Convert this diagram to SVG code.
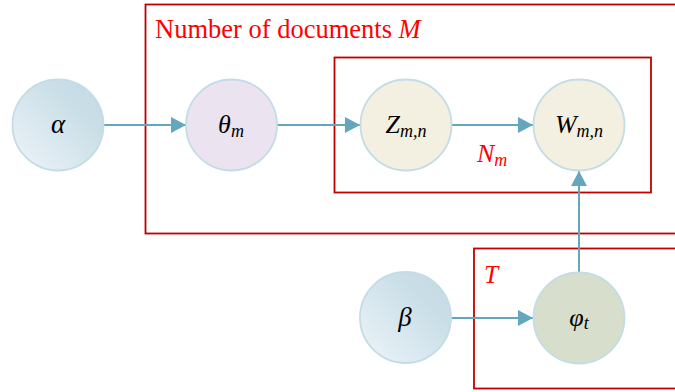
<svg xmlns="http://www.w3.org/2000/svg" width="675" height="392" viewBox="0 0 675 392">
<style>
.plate{fill:none;stroke:#c00000;stroke-width:1.8}
.node{stroke:#c4dce5;stroke-width:1.8}
.lbl{font-family:"Liberation Serif","Times New Roman",serif;font-style:italic;fill:#000;text-anchor:middle}
.red{font-family:"Liberation Serif","Times New Roman",serif;fill:#ff0000}
.edge{stroke:#63a6be;stroke-width:2;fill:none;marker-end:url(#ah)}
</style>
<defs>
<linearGradient id="g1" x1="0" y1="1" x2="1" y2="0">
<stop offset="0" stop-color="#eef4f9"/>
<stop offset="0.7" stop-color="#c9dee7"/>
<stop offset="1" stop-color="#c3dae4"/>
</linearGradient>
<marker id="ah" markerUnits="userSpaceOnUse" markerWidth="16" markerHeight="16" refX="15" refY="8" orient="auto">
<path d="M0,0 L15,8 L0,16 z" fill="#63a6be"/>
</marker>
</defs>
<g id="plates">
<rect class="plate" x="145.5" y="4.5" width="540" height="229"/>
<rect class="plate" x="334.5" y="57.5" width="316.5" height="135"/>
<rect class="plate" x="474" y="248.5" width="220" height="140"/>
<text class="red" x="155" y="37.5" font-size="26.5">Number of documents <tspan font-style="italic">M</tspan></text>
<text class="red" x="477" y="162" font-size="26" font-style="italic">N<tspan font-size="18" dy="4">m</tspan></text>
<text class="red" x="484" y="283" font-size="25.5" font-style="italic">T</text>
</g>
<g id="edges">
<line class="edge" x1="104" y1="125" x2="186" y2="125"/>
<line class="edge" x1="277" y1="125" x2="360" y2="125"/>
<line class="edge" x1="452" y1="125" x2="533" y2="125"/>
<line class="edge" x1="451" y1="318" x2="533" y2="318"/>
<line class="edge" x1="579" y1="272" x2="579" y2="171"/>
</g>
<g id="alpha">
<circle class="node" cx="58" cy="125" r="45.5" fill="url(#g1)"/>
<text class="lbl" x="58" y="133" font-size="27">α</text>
</g>
<g id="theta">
<circle class="node" cx="231.5" cy="125" r="45.5" fill="#ebe3f0"/>
<text class="lbl" x="231" y="133" font-size="26">θ<tspan font-size="18" dy="4">m</tspan></text>
</g>
<g id="z">
<circle class="node" cx="406" cy="125" r="45.5" fill="#f3efe1"/>
<text class="lbl" x="406" y="133" font-size="26">Z<tspan font-size="18" dy="4">m,n</tspan></text>
</g>
<g id="w">
<circle class="node" cx="579" cy="125" r="45.5" fill="#f3efe1"/>
<text class="lbl" x="579" y="133" font-size="26">W<tspan font-size="18" dy="4">m,n</tspan></text>
</g>
<g id="beta">
<circle class="node" cx="405.5" cy="317.5" r="45.5" fill="url(#g1)"/>
<text class="lbl" x="405" y="326" font-size="27">β</text>
</g>
<g id="phi">
<circle class="node" cx="579" cy="318" r="45.5" fill="#d7dfcc"/>
<text class="lbl" x="579" y="326" font-size="26">φ<tspan font-size="18" dy="3">t</tspan></text>
</g>
</svg>
